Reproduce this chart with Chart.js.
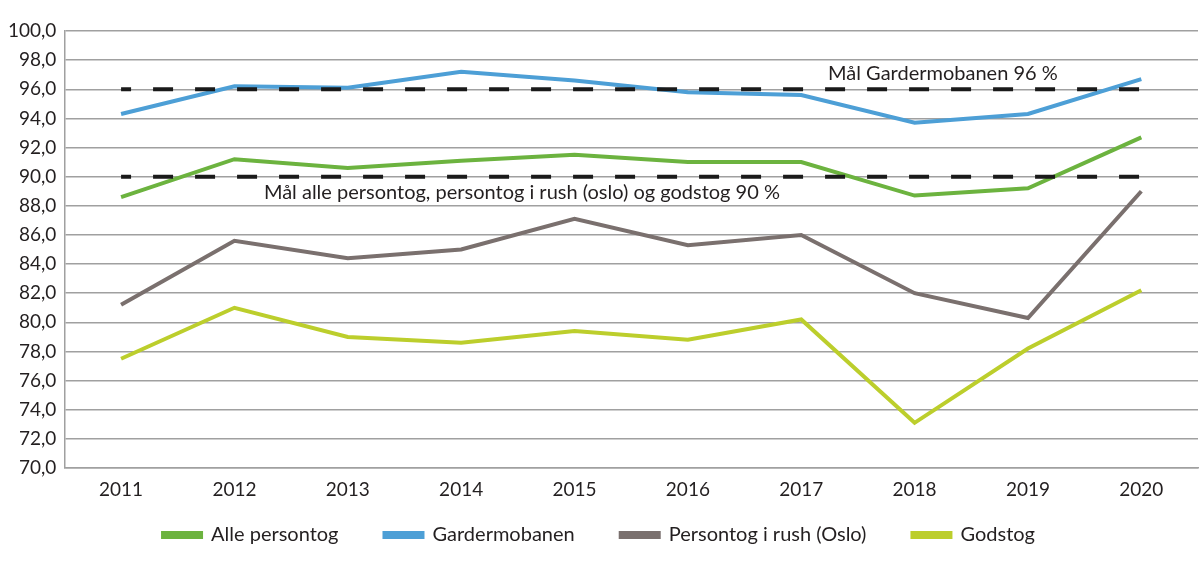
<!DOCTYPE html>
<html>
<head>
<meta charset="utf-8">
<script src="https://cdn.jsdelivr.net/npm/chart.js@4.4.0/dist/chart.umd.min.js"></script>
<style>
  html, body { margin: 0; padding: 0; background: #fff; }
  #wrap { width: 1200px; height: 562px; position: relative; }
</style>
</head>
<body>
<div id="wrap"><canvas id="chart"></canvas></div>
<script>
// Years on the x axis
const years = ['2011', '2012', '2013', '2014', '2015', '2016', '2017', '2018', '2019', '2020'];

// Punctuality per series (%)
const allePersontog = [88.6, 91.2, 90.6, 91.1, 91.5, 91.0, 91.0, 88.7, 89.2, 92.7];
const gardermobanen = [94.3, 96.2, 96.1, 97.2, 96.6, 95.8, 95.6, 93.7, 94.3, 96.7];
const persontogRush = [81.2, 85.6, 84.4, 85.0, 87.1, 85.3, 86.0, 82.0, 80.3, 89.0];
const godstog = [77.5, 81.0, 79.0, 78.6, 79.4, 78.8, 80.2, 73.1, 78.2, 82.2];

// Target lines
const maalGardermobanen = years.map(() => 96);
const maalAlle = years.map(() => 90);

const FONT = 'Lato, "Open Sans", sans-serif';
const TEXT = '#231f20';

// Labels for the target lines
const targetLabels = {
  id: 'targetLabels',
  afterDatasetsDraw(chart) {
    const { ctx, scales: { x, y } } = chart;
    ctx.save();
    ctx.font = `20px ${FONT}`;
    ctx.fillStyle = TEXT;
    ctx.textBaseline = 'middle';
    ctx.textAlign = 'center';
    ctx.fillText('Mål Gardermobanen 96 %', x.getPixelForValue(7.25), y.getPixelForValue(97.1));
    ctx.textAlign = 'left';
    ctx.fillText('Mål alle persontog, persontog i rush (oslo) og godstog 90 %', x.getPixelForValue(1.26), y.getPixelForValue(88.9));
    ctx.restore();
  },
};

const line = (label, data, color) => ({
  label,
  data,
  borderColor: color,
  backgroundColor: color,
  borderWidth: 4,
  pointRadius: 0,
  tension: 0,
});

const dashed = (data) => ({
  label: '',
  data,
  borderColor: '#1a1a1a',
  borderWidth: 4,
  borderDash: [20, 22],
  borderDashOffset: 10,
  pointRadius: 0,
  tension: 0,
});

new Chart(document.getElementById('chart'), {
  type: 'line',
  data: {
    labels: years,
    datasets: [
      dashed(maalGardermobanen),
      dashed(maalAlle),
      line('Alle persontog', allePersontog, '#6cb33f'),
      line('Gardermobanen', gardermobanen, '#4d9fd6'),
      line('Persontog i rush (Oslo)', persontogRush, '#7a706e'),
      line('Godstog', godstog, '#bcce2c'),
    ],
  },
  options: {
    responsive: true,
    maintainAspectRatio: false,
    animation: false,
    layout: {
      padding: { top: 31, right: 2, left: 0, bottom: 7 },
    },
    scales: {
      y: {
        min: 70,
        max: 100,
        ticks: {
          stepSize: 2,
          color: TEXT,
          font: { family: FONT, size: 19 },
          padding: 8,
          callback: (v) => v.toFixed(1).replace('.', ','),
        },
        grid: { color: '#a0a0a0', lineWidth: 1.5, drawTicks: false },
        border: { color: '#a0a0a0', width: 1.5 },
      },
      x: {
        offset: true,
        // let the year labels sit in the legend's top padding, and don't clip them
        afterFit: (scale) => {
          scale.height = 11;
          scale._computeLabelArea = () => undefined;
        },
        ticks: {
          color: TEXT,
          font: { family: FONT, size: 19 },
          padding: 10,
        },
        grid: { display: false, drawTicks: false, offset: true },
        border: { color: '#a0a0a0', width: 1.5 },
      },
    },
    plugins: {
      legend: {
        position: 'bottom',
        labels: {
          filter: (item) => item.text !== '',
          boxWidth: 38,
          boxHeight: 4,
          padding: 46,
          color: TEXT,
          font: { family: FONT, size: 20 },
        },
      },
      tooltip: { enabled: false },
    },
  },
  plugins: [targetLabels],
});
</script>
</body>
</html>
